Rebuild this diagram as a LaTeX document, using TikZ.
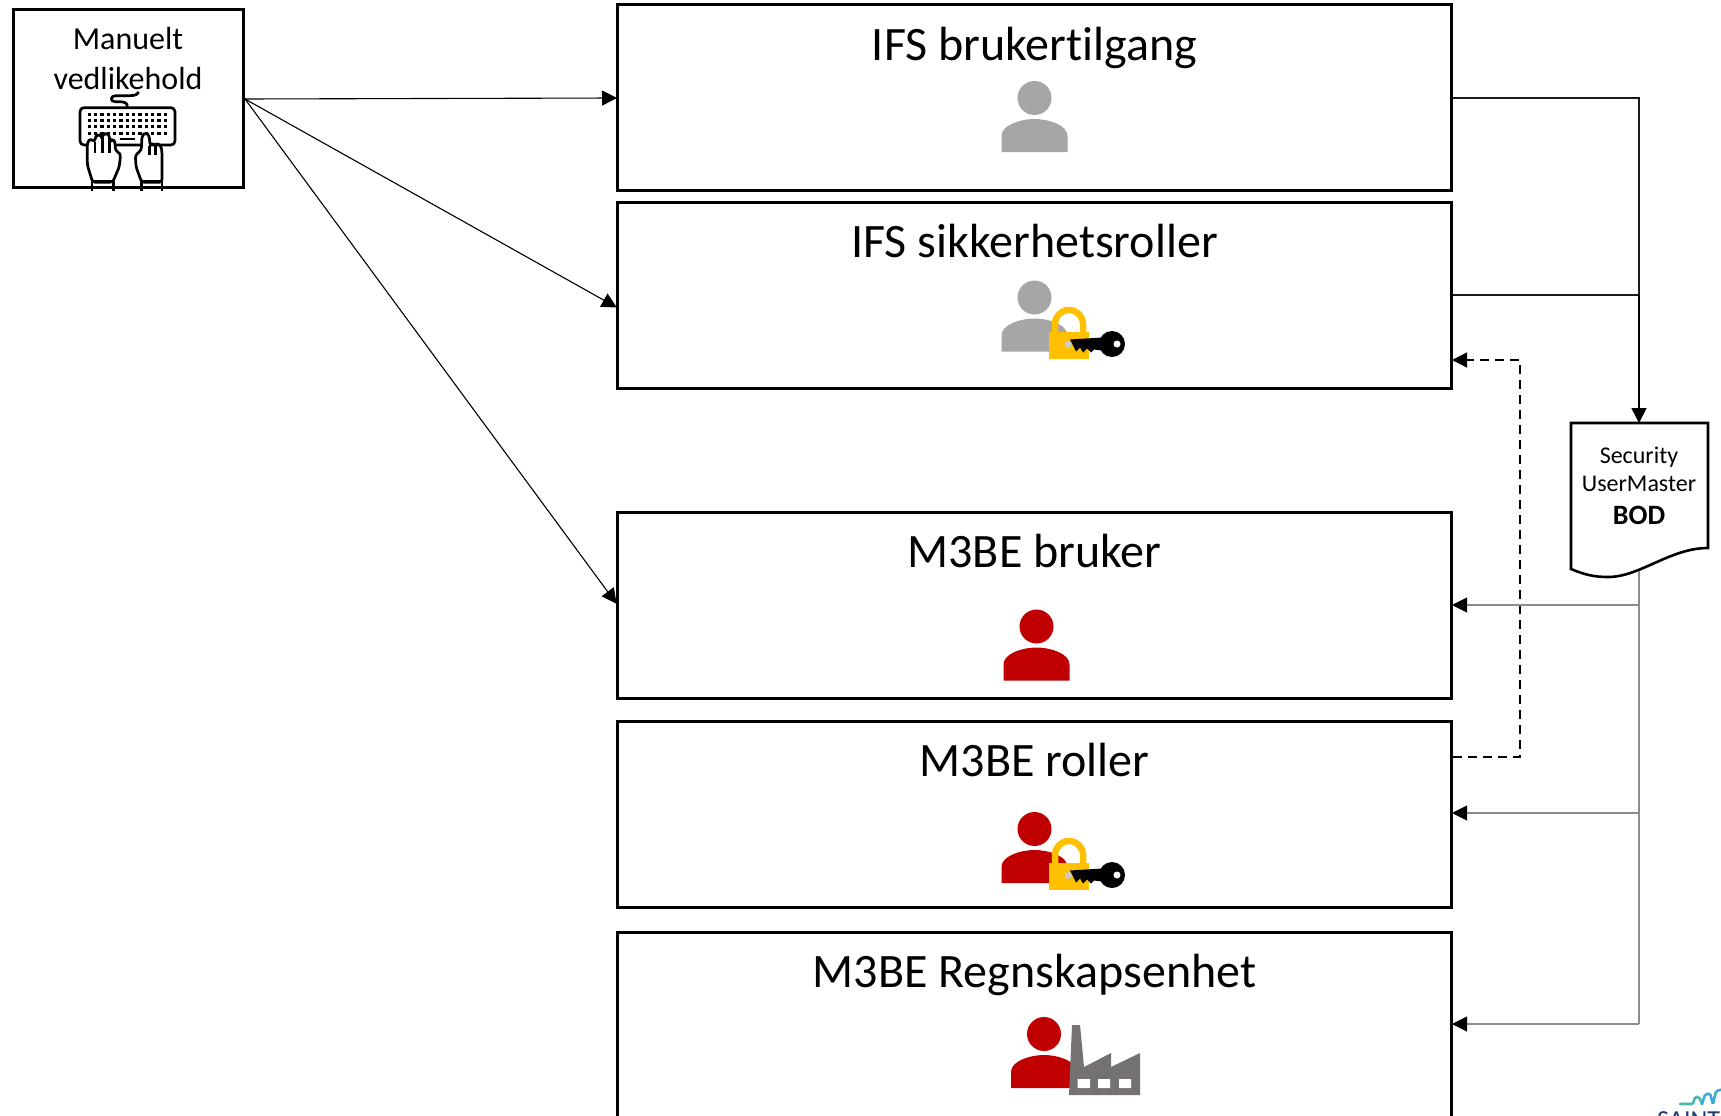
\documentclass[tikz,border=0pt]{standalone}
\usepackage{fontspec}
\setmainfont[Ligatures=NoCommon]{Carlito}
\usetikzlibrary{arrows.meta}
\definecolor{iconred}{HTML}{C00000}
\definecolor{icongray}{HTML}{A6A6A6}
\definecolor{lockgold}{HTML}{FFC000}
\definecolor{factgray}{HTML}{767171}
\definecolor{linegray}{HTML}{8C8C8C}
\definecolor{darkline}{HTML}{1A1A1A}
\definecolor{logoteal}{HTML}{4DB6AC}
\definecolor{logoblue}{HTML}{3FA9D8}
\definecolor{logonavy}{HTML}{1F3C7A}
\tikzset{
  x=1pt,y=-1pt,
  bigbox/.style={draw=black,line width=3pt,fill=white,inner sep=0pt,minimum width=834pt},
  boxtitle/.style={inner sep=0pt,anchor=base,font=\fontsize{48}{48}\selectfont,text=black},
  smalltext/.style={inner sep=0pt,anchor=base,font=\fontsize{32}{32}\selectfont,text=black},
  doctext/.style={inner sep=0pt,anchor=base,font=\fontsize{24}{24}\selectfont,text=black},
  conn/.style={draw=black,line width=1.1pt,shorten >=-1pt,-{Triangle[length=15pt,width=15pt]}},
  plainconn/.style={draw=darkline,line width=1.1pt},
  grayconn/.style={draw=linegray,line width=1.1pt,shorten >=-1pt,-{Triangle[length=15pt,width=15pt,color=black,fill=black]}},
  dashconn/.style={draw=black,line width=1.25pt,dash pattern=on 9pt off 6pt,shorten >=-1pt,-{Triangle[length=15pt,width=15pt]}},
  kbline/.style={draw=black,line width=2.7pt,line join=round},
  hand/.style={kbline,fill=white,rounded corners=3pt},
}
\newcommand{\tzperson}[3]{%
  \begin{scope}[shift={(#1,#2)}]
    \fill[#3] (0,0) circle (17);
    \fill[#3] (-33,54) -- (-33,38) .. controls (-33,27) and (-14,21) .. (0,21)
      .. controls (14,21) and (33,27) .. (33,38) -- (33,54) -- cycle;
  \end{scope}}
\newcommand{\tzlockkey}[2]{%
  \begin{scope}[shift={(#1,#2)}]
    \draw[lockgold,line width=6.5pt] (21,36) -- (21,26.5) arc[start angle=180,end angle=360,radius=14] -- (49,36);
    \fill[lockgold] (15,34) rectangle (55,61);
    \fill[icongray!60!white] (34,47) circle (3.5);
    \fill[black] (36,42) -- (68,40) -- (68,53) -- (60,52) -- (57,55) -- (53,51) -- (49,55) -- (46,50) -- (42,54) -- cycle;
    \fill[black] (78,46.5) circle (13);
    \fill[white] (83,46.5) circle (3.5);
  \end{scope}}
\begin{document}
\begin{tikzpicture}
\clip (0,0) rectangle (1721,1116);
\fill[white] (0,0) rectangle (1721,1116);

% boxes
\node[draw=black,line width=3pt,inner sep=0pt,minimum width=230pt,minimum height=178.5pt] (manual) at (128.5,98.5) {};
\node[bigbox,minimum height=185.5pt] (brukertilgang) at (1034.5,97.5) {};
\node[bigbox,minimum height=186pt] (sikkerhet) at (1034.5,295) {};
\node[bigbox,minimum height=186pt] (m3bruker) at (1034.5,605) {};
\node[bigbox,minimum height=186pt] (m3roller) at (1034.5,814) {};
\node[bigbox,minimum height=220pt] (m3regn) at (1034.5,1042) {};

% titles
\node[boxtitle] (t1) at (1034.5,60) {IFS brukertilgang};
\node[boxtitle] (t2) at (1034.5,257.5) {IFS sikkerhetsroller};
\node[boxtitle] (t3) at (1034.5,567.5) {M3BE bruker};
\node[boxtitle] (t4) at (1034.5,776.5) {M3BE roller};
\node[boxtitle] (t5) at (1034.5,987.5) {M3BE Regnskapsenhet};
\node[smalltext] (t0a) at (128,49) {Manuelt};
\node[smalltext] (t0b) at (128,89) {vedlikehold};

% document shape
\coordinate (docTop) at (1639,423);
\coordinate (docBottom) at (1639,571);
\draw[black,line width=2.6pt,fill=white,line join=miter] (1571,423) -- (1708,423) -- (1708,548)
  .. controls (1670,548) and (1640,577) .. (1608,577)
  .. controls (1595,577) and (1585,575) .. (1571,569) -- cycle;
\node[doctext] (d1) at (1639,463.5) {Security};
\node[doctext] (d2) at (1639,491.5) {UserMaster};
\node[doctext,font=\fontsize{28}{28}\selectfont\bfseries] (d3) at (1639,524) {BOD};

% connectors
\draw[conn] (manual.east |- 0,99) -- (brukertilgang.west |- 0,98);
\draw[conn] (manual.east |- 0,99) -- (sikkerhet.west |- 0,307);
\draw[conn] (manual.east |- 0,99) -- (m3bruker.west |- 0,603);
\draw[plainconn] (brukertilgang.east |- 0,98) -- (docTop |- 0,98) -- (docTop |- 0,295);
\draw[plainconn] (sikkerhet.east |- 0,295) -- (docTop |- 0,295);
\draw[conn,line width=1.6pt,shorten >=0pt] (docTop |- 0,295) -- (docTop);
\draw[dashconn] (m3roller.east |- 0,757) -- (1520,757) -- (1520,360) -- (sikkerhet.east |- 0,360);
\draw[draw=linegray,line width=1.1pt] (docBottom) -- (docTop |- 0,1024);
\draw[grayconn] (docTop |- 0,605) -- (m3bruker.east |- 0,605);
\draw[grayconn] (docTop |- 0,813) -- (m3roller.east |- 0,813);
\draw[grayconn] (docTop |- 0,1024) -- (m3regn.east |- 0,1024);

% icons
\tzperson{1034.5}{98}{icongray}
\tzperson{1034.5}{297.5}{icongray}
\tzlockkey{1034}{297.5}
\tzperson{1036.5}{626.5}{iconred}
\tzperson{1034.5}{829}{iconred}
\tzlockkey{1034}{828.5}
\tzperson{1044}{1034}{iconred}
% factory
\fill[factgray] (1069,1095) -- (1072,1025) -- (1080,1025) -- (1084,1067) -- (1111,1053) -- (1111,1067) -- (1140,1053) -- (1140,1095) -- cycle;
\fill[white] (1077.5,1079) rectangle (1090,1088) (1098,1079) rectangle (1110,1088) (1119,1079) rectangle (1131,1088);

% keyboard
\begin{scope}[shift={(70,85)},x=0.3333pt,y=-0.3333pt]
  \draw[kbline] (172,67) .. controls (172,52) and (165,52) .. (150,50) -- (135,50)
     .. controls (120,50) and (120,32) .. (138,32) -- (180,32) .. controls (195,32) and (205,28) .. (205,20);
  \draw[kbline,rounded corners=4pt,fill=white] (30,68) rectangle (315,180);
  \foreach \yy in {88,107,125,145} \foreach \xx in {58,77,...,300}
    \fill[black] (\xx-5,\yy-5) rectangle (\xx+5,\yy+5);
  \draw[kbline] (150,162) -- (195,162);
  % left hand
  \draw[hand] (68,292) -- (52,240) -- (52,172) -- (62,160) -- (74,172) -- (76,154) -- (86,148) -- (96,154) -- (98,150) -- (108,144) -- (118,150) -- (120,170) -- (128,162) -- (136,172) -- (136,198) -- (152,205) -- (148,245) -- (128,292) -- cycle;
  \draw[kbline] (75,172) -- (75,205) (97,155) -- (97,205) (119,160) -- (119,205);
  % right hand
  \draw[hand] (215,292) -- (198,245) -- (196,210) -- (214,196) -- (216,152) -- (227,142) -- (238,152) -- (240,182) -- (248,176) -- (256,182) -- (264,176) -- (274,184) -- (276,205) -- (276,292) -- cycle;
  \draw[kbline] (239,182) -- (239,210) (256,182) -- (256,210);
  % wrists
  \draw[kbline] (66,318) -- (66,290) -- (130,290) -- (130,318);
  \draw[kbline] (215,318) -- (215,290) -- (276,290) -- (276,318);
\end{scope}

% logo
\draw[color=logoteal,line width=2.6pt,line cap=round,rounded corners=1.5pt] (1680,1104) -- (1693,1104) -- (1695,1097) -- (1699,1097) -- (1702,1104);
\draw[color=logoblue,line width=2.6pt,line cap=round,rounded corners=1.5pt] (1702,1104) -- (1705,1094.5) -- (1710,1093.5) -- (1713,1104) -- (1716,1091) -- (1724,1089);
\node[inner sep=0pt,anchor=base west,text=logonavy,font=\fontsize{26}{26}\selectfont] (logo) at (1657,1128) {SAINT};
\end{tikzpicture}
\end{document}
